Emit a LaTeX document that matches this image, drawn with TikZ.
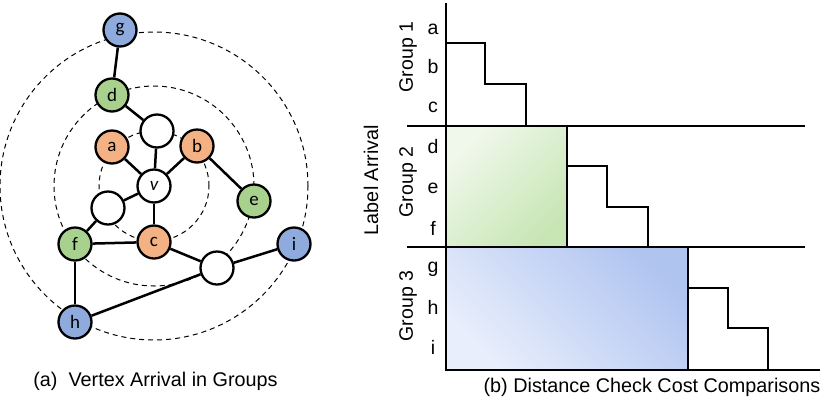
\documentclass[tikz,border=0pt]{standalone}
\usepackage{fontspec}
\setmainfont{Liberation Sans}
\newfontfamily\nodefnt{Carlito}
\definecolor{orangeC}{RGB}{244,177,131}
\definecolor{greenC}{RGB}{169,209,142}
\definecolor{blueC}{RGB}{143,170,220}
\definecolor{gLight}{RGB}{240,248,236}
\definecolor{gDark}{RGB}{200,230,180}
\definecolor{bLight}{RGB}{232,238,252}
\definecolor{bDark}{RGB}{176,196,240}
\begin{document}
\begin{tikzpicture}[x=1pt,y=-1pt,
  vtx/.style={circle, draw=black, line width=2.3pt, minimum size=33pt, inner sep=0pt, fill=white,
    font=\nodefnt\fontsize{19}{19}\selectfont},
  og/.style={vtx, fill=orangeC},
  gg/.style={vtx, fill=greenC},
  bg/.style={vtx, fill=blueC},
  edgeln/.style={line width=2.5pt},
  ring/.style={line width=1pt, dash pattern=on 5pt off 4pt},
  axline/.style={line width=2.4pt},
  lbl/.style={font=\fontsize{19.5}{19.5}\selectfont},
  captxt/.style={font=\fontsize{19.8}{19.8}\selectfont},
]
\useasboundingbox (0,0) rectangle (830,408);
% rings
\draw[ring] (154,186) circle (55pt);
\draw[ring] (154,186) circle (100pt);
\draw[ring] (154,186) circle (154pt);
% nodes
\node[bg] (g) at (120,30) {g};
\node[gg] (d) at (112,95) {d};
\node[vtx] (w1) at (157,131) {};
\node[og] (a) at (112,147) {a};
\node[og] (b) at (197,146) {b};
\node[vtx] (v) at (154,186) {\itshape v};
\node[gg] (e) at (254,201) {e};
\node[vtx] (w2) at (108,208) {};
\node[gg] (f) at (75,244) {f};
\node[og] (c) at (154,242) {c};
\node[bg] (i) at (294,244) {i};
\node[vtx] (w3) at (217,268) {};
\node[bg] (h) at (75,322) {h};
% edges
\draw[edgeln] (g) -- (d);
\draw[edgeln] (d) -- (w1);
\draw[edgeln] (w1) -- (v);
\draw[edgeln] (a) -- (v);
\draw[edgeln] (b) -- (v);
\draw[edgeln] (v) -- (w2);
\draw[edgeln] (v) -- (c);
\draw[edgeln] (b) -- (e);
\draw[edgeln] (w2) -- (f);
\draw[edgeln] (f) -- (c);
\draw[edgeln] (c) -- (w3);
\draw[edgeln] (w3) -- (i);
\draw[edgeln] (w3) -- (h);
\draw[edgeln] (f) -- (h);
\node[captxt] (capa) at (155.5,381) {(a)\ \ Vertex Arrival in Groups};

% right panel
\shade[top color=gLight, bottom color=gDark, shading angle=45] (446,126) rectangle (567,247);
\shade[top color=bDark, bottom color=bLight, shading angle=-45] (446,247) rectangle (688,370);
\coordinate (o) at (446,370);
\coordinate (ytop) at (446,3);
\coordinate (xend) at (820,370);
\coordinate (h1l) at (407,126);
\coordinate (h1r) at (805,126);
\coordinate (h2l) at (407,247);
\coordinate (h2r) at (805,247);
\draw[axline] (h1l) -- (h1r);
\draw[axline] (h2l) -- (h2r);
\draw[axline,line join=miter] (ytop) -- (o) -- (xend);
\draw[axline] (446,43) -- (485,43) -- (485,84) -- (526,84) -- (526,126);
\draw[axline] (567,126) -- (567,247);
\draw[axline] (567,166) -- (607,166) -- (607,207) -- (648,207) -- (648,247);
\draw[axline] (688,247) -- (688,370);
\draw[axline] (688,288) -- (728,288) -- (728,328) -- (768,328) -- (768,370);
% letters
\foreach \t/\yy in {a/29,b/67,c/107,d/147,e/188,f/228,g/269,h/307,i/347}
  \node[lbl] (l\t) at (433,\yy) {\t};
\node[lbl,rotate=90] (g1) at (408,57) {Group 1};
\node[lbl,rotate=90] (g2) at (408,182) {Group 2};
\node[lbl,rotate=90] (g3) at (408,306) {Group 3};
\node[captxt,rotate=90] (la) at (371,180) {Label Arrival};
\node[captxt] (capb) at (652,387) {(b) Distance Check Cost Comparisons};
\end{tikzpicture}
\end{document}
